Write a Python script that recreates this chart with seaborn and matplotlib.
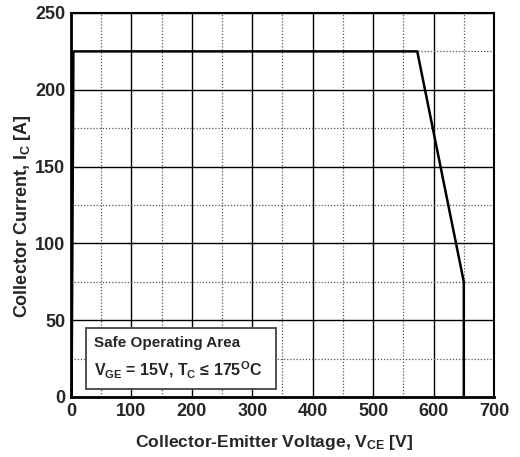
import matplotlib
matplotlib.use("Agg")
import matplotlib.pyplot as plt
import seaborn as sns
import pandas as pd
from matplotlib.patches import Rectangle

vce = [1, 4, 573, 650, 650]
ic = [0, 225, 225, 75, 0]
x_ticks = [0, 100, 200, 300, 400, 500, 600, 700]
y_ticks = [0, 50, 100, 150, 200, 250]

sns.set_style("white")
plt.rcParams['font.family'] = ['Liberation Sans', 'DejaVu Sans']
plt.rcParams['font.weight'] = 'bold'
plt.rcParams['mathtext.fontset'] = 'custom'
plt.rcParams['mathtext.rm'] = 'Liberation Sans:bold'
plt.rcParams['mathtext.it'] = 'Liberation Sans:bold'
plt.rcParams['mathtext.bf'] = 'Liberation Sans:bold'

fig = plt.figure(figsize=(5.2, 4.57), dpi=100)
ax = fig.add_axes([0.1365, 0.1313, 0.8135, 0.8403])

df = pd.DataFrame({"VCE": vce, "IC": ic})
sns.lineplot(data=df, x="VCE", y="IC", sort=False, estimator=None, color="black", lw=1.8, ax=ax, zorder=5)

ax.set_xlim(0, 700)
ax.set_ylim(0, 250)
ax.set_xticks(x_ticks)
ax.set_yticks(y_ticks)
ax.set_xticks([50, 150, 250, 350, 450, 550, 650], minor=True)
ax.set_yticks([25, 75, 125, 175, 225], minor=True)
ax.grid(which='major', color='black', lw=1.0, ls='-')
ax.grid(which='minor', color='#555555', lw=0.9, ls=(0, (1, 1.5)))
ax.tick_params(which='both', length=0, labelsize=13, pad=4)
for lab in ax.get_xticklabels() + ax.get_yticklabels():
    lab.set_fontweight('bold')
for s in ['left', 'bottom']:
    ax.spines[s].set_linewidth(2.0)
for s in ['top', 'right']:
    ax.spines[s].set_linewidth(1.5)
for s in ax.spines.values():
    s.set_color('black')
    s.set_zorder(6)

ax.set_xlabel(r"Collector-Emitter Voltage, V$_{CE}$ [V]", fontsize=12.6, fontweight='bold')
ax.set_ylabel(r"Collector Current, I$_C$ [A]", fontsize=13, fontweight='bold')
ax.xaxis.set_label_coords(0.481, -0.095)
ax.yaxis.set_label_coords(-0.09, 0.471)

ax.add_patch(Rectangle((25, 5), 314, 40, facecolor='white', edgecolor='#444444', lw=1.3, zorder=7))
ax.text(38, 35, "Safe Operating Area", fontsize=11, fontweight='bold', va='center', ha='left', zorder=8)
ax.text(38, 17, r"V$_{GE}$ = 15V, T$_C$ ≤ 175$^O$C", fontsize=11.5, fontweight='bold', va='center', ha='left', zorder=8)

fig.savefig("out.png", dpi=100)
